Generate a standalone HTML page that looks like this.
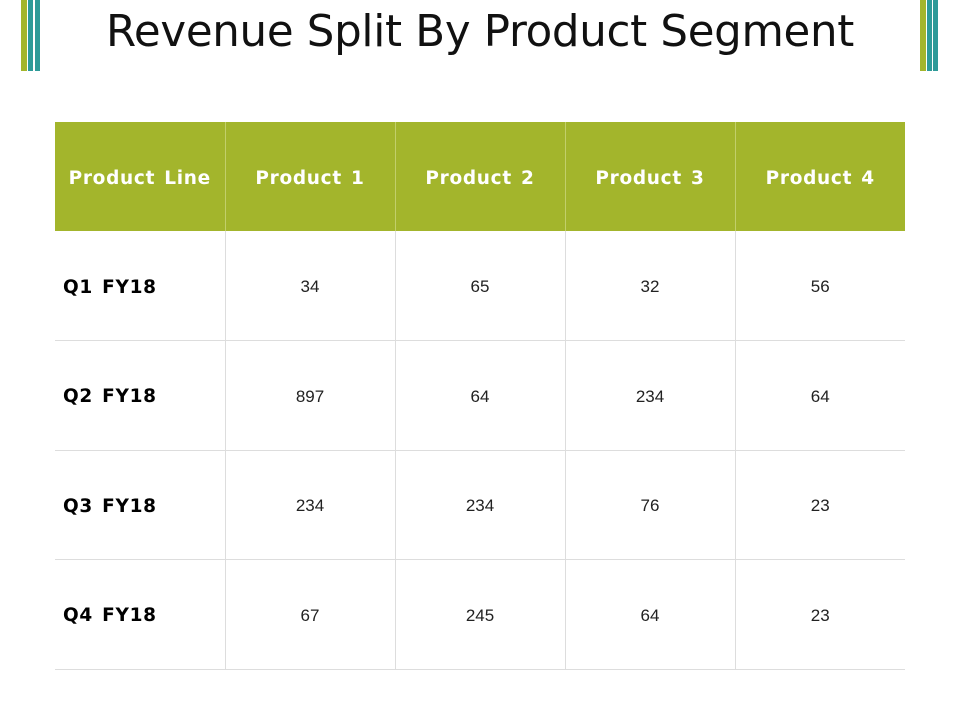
<!DOCTYPE html>
<html><head><meta charset="utf-8"><style>
body{margin:0;width:960px;height:720px;background:#fff;position:relative;overflow:hidden;font-family:"Liberation Sans",sans-serif}
.bar{position:absolute;top:0;height:71px}
h1{position:absolute;top:7px;left:0;width:960px;margin:0;text-align:center;font-weight:normal;font-size:43.5px;color:#111;font-family:"DejaVu Sans","Liberation Sans",sans-serif;letter-spacing:-0.3px}
table{position:absolute;left:55px;top:122px;border-collapse:collapse;table-layout:fixed;width:850px}
td,th{width:170px;padding:3px 0 0 0;box-sizing:border-box}
th{height:109px;background:#a3b52c;color:#fff;font-family:"DejaVu Sans",sans-serif;font-size:18.5px;letter-spacing:0.7px;font-weight:bold;border-left:1px solid #c2cf6a;word-spacing:2px;white-space:nowrap}
th:first-child{border-left:none}
td{height:109.5px;border-bottom:1.5px solid #ddd;border-left:1.5px solid #ddd;text-align:center;font-size:17px;color:#222}
td:first-child{border-left:none;text-align:left;padding-left:8px;font-family:"DejaVu Sans",sans-serif;font-weight:bold;font-size:18.5px;letter-spacing:0.7px;word-spacing:2px;color:#000;white-space:nowrap}
</style></head><body>
<div class="bar" style="left:21px;width:6px;background:#a3b52c"></div>
<div class="bar" style="left:28px;width:5px;background:#2e9a98"></div>
<div class="bar" style="left:35px;width:5px;background:#2e9a98"></div>
<div class="bar" style="left:920px;width:6px;background:#a3b52c"></div>
<div class="bar" style="left:927px;width:5px;background:#2e9a98"></div>
<div class="bar" style="left:933px;width:5px;background:#2e9a98"></div>
<h1>Revenue Split By Product Segment</h1>
<table>
<tr><th>Product Line</th><th>Product 1</th><th>Product 2</th><th>Product 3</th><th>Product 4</th></tr>
<tr><td>Q1 FY18</td><td>34</td><td>65</td><td>32</td><td>56</td></tr>
<tr><td>Q2 FY18</td><td>897</td><td>64</td><td>234</td><td>64</td></tr>
<tr><td>Q3 FY18</td><td>234</td><td>234</td><td>76</td><td>23</td></tr>
<tr><td>Q4 FY18</td><td>67</td><td>245</td><td>64</td><td>23</td></tr>
</table>
</body></html>
